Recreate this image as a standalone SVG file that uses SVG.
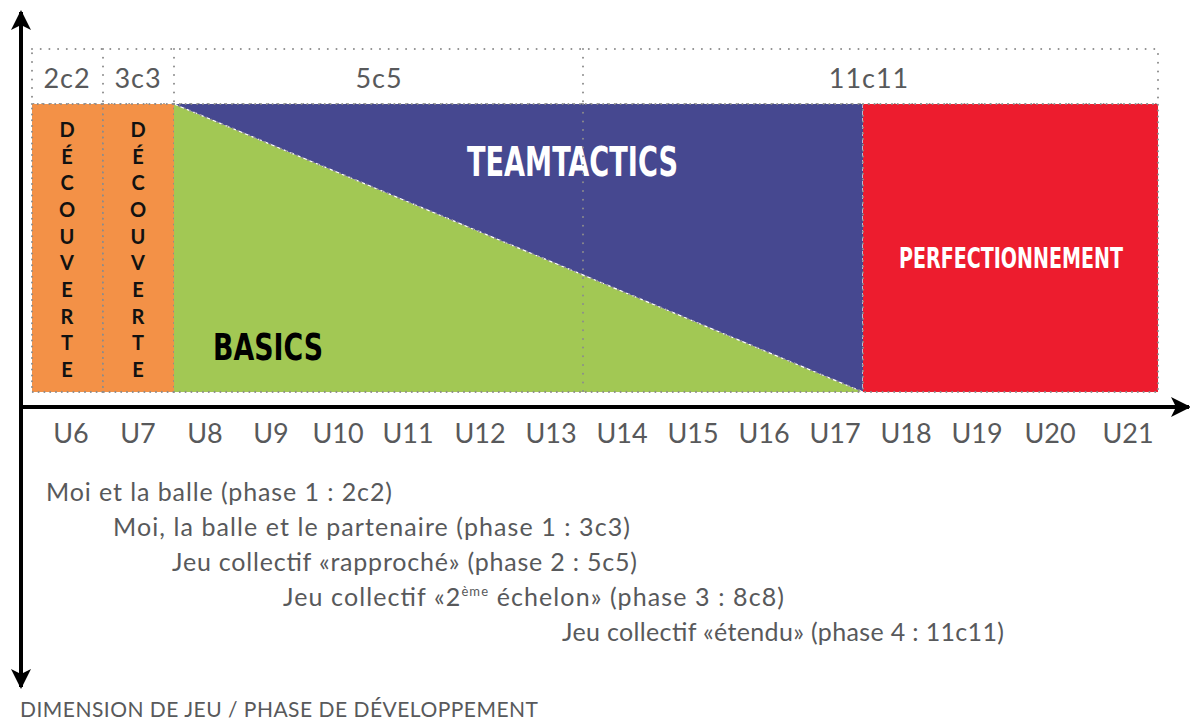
<svg xmlns="http://www.w3.org/2000/svg" width="1190" height="720" viewBox="0 0 1190 720">
  <style>
    .dots { fill: none; stroke: #8c8c8c; stroke-width: 2; stroke-linecap: round; stroke-dasharray: 0 8.7; }
    .dotsf { fill: none; stroke: #8c8c8c; stroke-width: 2; stroke-linecap: round; stroke-dasharray: 0 5.8; }
    .fmt { font-family: Lato, "Noto Sans", sans-serif; fill: #58595b; }
    .top { font-size: 27px; letter-spacing: 1px; text-anchor: middle; }
    .age { font-size: 27px; text-anchor: middle; }
    .phase { font-size: 25px; }
    .vert { font-family: Lato, "Noto Sans", sans-serif; font-size: 20px; font-weight: bold; fill: #111; text-anchor: middle; }
    .cond { font-family: "DejaVu Sans Condensed", "DejaVu Sans", sans-serif; font-weight: bold; }
    .axis { stroke: #000; stroke-width: 4; fill: none; }
  </style>
  <defs>
    <marker id="arrow" viewBox="0 0 10 10" refX="9" refY="5" markerWidth="5" markerHeight="5" orient="auto" markerUnits="strokeWidth">
      <path d="M0,0 L10,5 L0,10 L2.5,5 Z" fill="#000"/>
    </marker>
  </defs>

  <rect width="1190" height="720" fill="#fff"/>

  <!-- game-size header row -->
  <g id="header">
    <rect class="dots" x="32" y="49" width="1126" height="55"/>
    <line class="dots" x1="103" y1="49" x2="103" y2="104"/>
    <line class="dots" x1="174" y1="49" x2="174" y2="104"/>
    <line class="dots" x1="583" y1="49" x2="583" y2="104"/>
    <text class="fmt top" x="67" y="88">2c2</text>
    <text class="fmt top" x="138" y="88">3c3</text>
    <text class="fmt top" x="379" y="88">5c5</text>
    <text class="fmt top" x="869" y="88">11c11</text>
  </g>

  <!-- discovery columns U6 / U7 -->
  <g id="decouverte-u6">
    <rect x="32" y="104" width="71" height="288" fill="#f39147"/>
    <rect class="dotsf" x="32" y="104" width="71" height="288"/>
    <text class="vert" x="67"><tspan x="67" y="137">D</tspan><tspan x="67" y="163.7">É</tspan><tspan x="67" y="190.3">C</tspan><tspan x="67" y="217">O</tspan><tspan x="67" y="243.7">U</tspan><tspan x="67" y="270.3">V</tspan><tspan x="67" y="297">E</tspan><tspan x="67" y="323.7">R</tspan><tspan x="67" y="350.3">T</tspan><tspan x="67" y="377">E</tspan></text>
  </g>
  <g id="decouverte-u7">
    <rect x="103" y="104" width="71" height="288" fill="#f39147"/>
    <rect class="dotsf" x="103" y="104" width="71" height="288"/>
    <text class="vert" x="138"><tspan x="138" y="137">D</tspan><tspan x="138" y="163.7">É</tspan><tspan x="138" y="190.3">C</tspan><tspan x="138" y="217">O</tspan><tspan x="138" y="243.7">U</tspan><tspan x="138" y="270.3">V</tspan><tspan x="138" y="297">E</tspan><tspan x="138" y="323.7">R</tspan><tspan x="138" y="350.3">T</tspan><tspan x="138" y="377">E</tspan></text>
  </g>

  <!-- basics / team tactics wedge -->
  <g id="basics">
    <polygon points="174,104 863,392 174,392" fill="#a2c854"/>
    <text class="cond" x="213" y="360" font-size="38" fill="#000" textLength="110" lengthAdjust="spacingAndGlyphs">BASICS</text>
  </g>
  <g id="teamtactics">
    <polygon points="174,104 863,104 863,392" fill="#464890"/>
    <text class="cond" x="467" y="176" font-size="40" fill="#fff" textLength="211" lengthAdjust="spacingAndGlyphs">TEAMTACTICS</text>
  </g>
  <g id="wedge-outline">
    <line x1="174" y1="104" x2="863" y2="392" stroke="#fff" stroke-width="1.2" stroke-dasharray="4 3"/>
    <line class="dotsf" x1="174" y1="104" x2="863" y2="392"/>
    <line x1="863" y1="104" x2="863" y2="392" stroke="#fff" stroke-width="1.2" stroke-dasharray="4 3"/>
    <polyline class="dotsf" points="174,104 863,104"/>
    <polyline class="dotsf" points="174,392 863,392"/>
    <line class="dots" x1="583" y1="104" x2="583" y2="392"/>
  </g>

  <!-- refinement block -->
  <g id="perfectionnement">
    <rect x="863" y="104" width="295" height="288" fill="#ed1c2e"/>
    <rect class="dotsf" x="863" y="104" width="295" height="288"/>
    <text class="cond" transform="translate(899,268) scale(1,1.2)" x="0" y="0" font-size="24" fill="#fff" textLength="224" lengthAdjust="spacingAndGlyphs">PERFECTIONNEMENT</text>
  </g>

  <!-- axes -->
  <g id="axes">
    <line class="axis" x1="21" y1="407" x2="21" y2="12" marker-end="url(#arrow)"/>
    <line class="axis" x1="21" y1="405" x2="21" y2="687" marker-end="url(#arrow)"/>
    <line class="axis" x1="19" y1="407" x2="1189" y2="407" marker-end="url(#arrow)"/>
  </g>

  <!-- age categories -->
  <g id="ages" class="fmt age">
    <text x="71" y="443">U6</text>
    <text x="138" y="443">U7</text>
    <text x="205" y="443">U8</text>
    <text x="271" y="443">U9</text>
    <text x="338" y="443">U10</text>
    <text x="408" y="443">U11</text>
    <text x="480" y="443">U12</text>
    <text x="551" y="443">U13</text>
    <text x="622" y="443">U14</text>
    <text x="693" y="443">U15</text>
    <text x="764" y="443">U16</text>
    <text x="835" y="443">U17</text>
    <text x="906" y="443">U18</text>
    <text x="977" y="443">U19</text>
    <text x="1050" y="443">U20</text>
    <text x="1128" y="443">U21</text>
  </g>

  <!-- development phases -->
  <g id="phases" class="fmt phase">
    <text x="46" y="501" textLength="346">Moi et la balle (phase 1 : 2c2)</text>
    <text x="113" y="536" textLength="517">Moi, la balle et le partenaire (phase 1 : 3c3)</text>
    <text x="172" y="571" textLength="465">Jeu collectif «rapproché» (phase 2 : 5c5)</text>
    <text x="283" y="606" textLength="501">Jeu collectif «2<tspan font-size="13" dy="-10">ème</tspan><tspan dy="10"> échelon» (phase 3 : 8c8)</tspan></text>
    <text x="562" y="641" textLength="442">Jeu collectif «étendu» (phase 4 : 11c11)</text>
  </g>

  <text class="fmt" x="20" y="717" font-size="21" textLength="518">DIMENSION DE JEU / PHASE DE DÉVELOPPEMENT</text>
</svg>
